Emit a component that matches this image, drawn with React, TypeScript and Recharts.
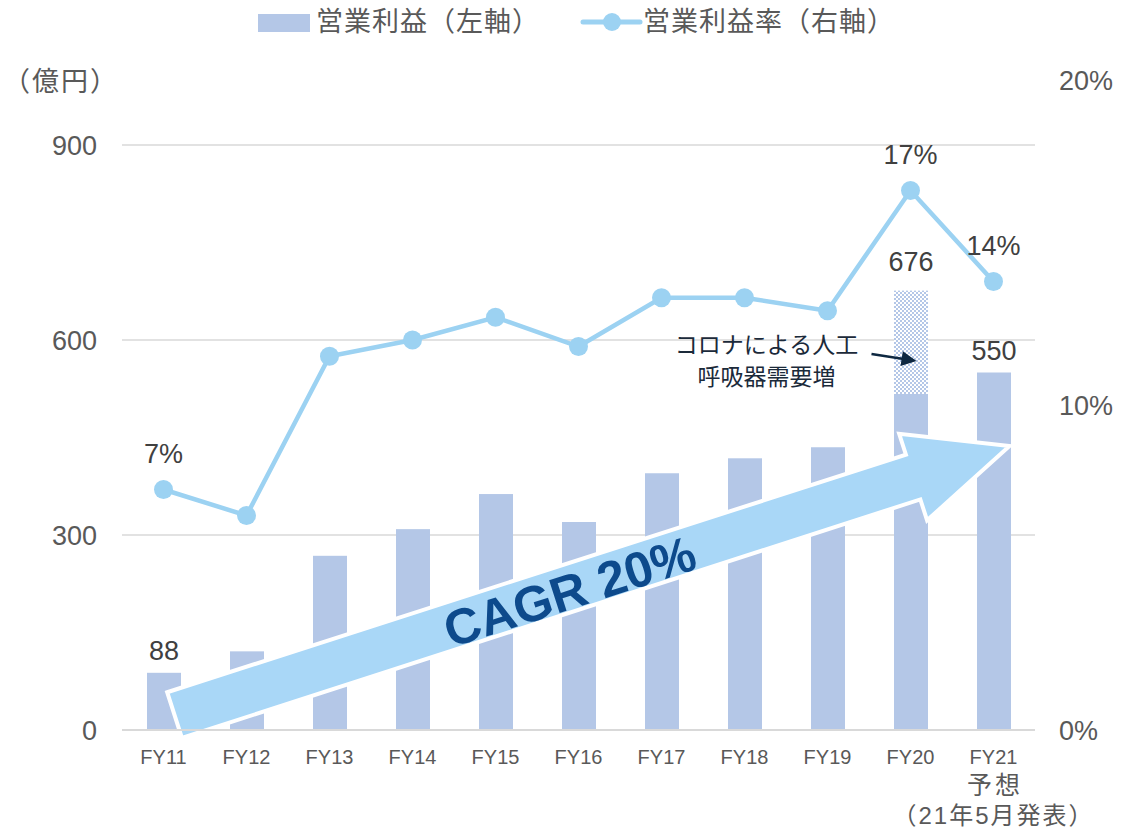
import React from 'react';
import { ComposedChart, Bar, Line, XAxis, YAxis, CartesianGrid, ReferenceLine } from 'recharts';

const categories = ['FY11', 'FY12', 'FY13', 'FY14', 'FY15', 'FY16', 'FY17', 'FY18', 'FY19', 'FY20', 'FY21'];
const operatingProfit = [88, 121, 268, 309, 363, 320, 395, 418, 435, 517, 550];
const covidUplift = [0, 0, 0, 0, 0, 0, 0, 0, 0, 159, 0];
const operatingMargin = [7.4, 6.6, 11.5, 12.0, 12.7, 11.8, 13.3, 13.3, 12.9, 16.6, 13.8];
const profitLabels = ['88', '', '', '', '', '', '', '', '', '', '550'];
const upliftLabels = ['', '', '', '', '', '', '', '', '', '676', ''];
const marginLabels = ['7%', '', '', '', '', '', '', '', '', '17%', '14%'];
const forecastNote = ['予想', '（21年5月発表）'];
const leftTicks = [0, 300, 600, 900];
const rightTicks = [0, 10, 20];
const legendItems = ['営業利益（左軸）', '営業利益率（右軸）'];
const unitLabel = '（億円）';
const cagrText = 'CAGR 20%';
const covidNote = ['コロナによる人工', '呼吸器需要増'];
const cagrSegment = [{ x: 'FY11', y: 17.5 }, { x: 'FY21', y: 429 }];
const calloutSegment = [{ x: 'FY19', y: 578.5 }, { x: 'FY20', y: 567.7 }];

const data = categories.map((name, i) => ({
  name,
  profit: operatingProfit[i],
  uplift: covidUplift[i],
  margin: operatingMargin[i],
}));

const FONT = "'Liberation Sans', Arial, 'Noto Sans CJK JP', sans-serif";
const BAR = '#B4C7E7';
const LINE = '#9CD2F2';
const ARROW = '#A9D7F7';
const AXIS_TEXT = '#595959';
const LABEL_TEXT = '#404040';

const XTick = (props: any) => {
  const { x, y, payload } = props;
  const isLast = payload.value === categories[categories.length - 1];
  return (
    <g>
      <text x={x} y={y + 19} textAnchor="middle" dominantBaseline="central" fill={AXIS_TEXT} fontSize={20} fontFamily={FONT}>
        {payload.value}
      </text>
      {isLast && (
        <>
          <text x={x + 1.5} y={y + 47} textAnchor="middle" dominantBaseline="central" fill={AXIS_TEXT} fontSize={25} letterSpacing={3} fontFamily={FONT}>
            {forecastNote[0]}
          </text>
          <text x={x} y={y + 77} textAnchor="middle" dominantBaseline="central" fill={AXIS_TEXT} fontSize={24} letterSpacing={2} fontFamily={FONT}>
            {forecastNote[1]}
          </text>
        </>
      )}
    </g>
  );
};

const ProfitBar = (p: any) => {
  const { x, y, width, height, index } = p;
  const label = profitLabels[index];
  return (
    <g>
      {height > 0 && <rect x={x} y={y} width={width} height={height} fill={BAR} />}
      {label && (
        <text x={x + width / 2} y={y - 22} textAnchor="middle" dominantBaseline="central" fill={LABEL_TEXT} fontSize={27} fontFamily={FONT}>
          {label}
        </text>
      )}
    </g>
  );
};

const UpliftBar = (p: any) => {
  const { x, y, width, height, index } = p;
  const label = upliftLabels[index];
  if (!(height > 0)) return <g />;
  return (
    <g>
      <rect x={x} y={y} width={width} height={height} fill="url(#covidHatch)" />
      {label && (
        <text x={x + width / 2} y={y - 29} textAnchor="middle" dominantBaseline="central" fill={LABEL_TEXT} fontSize={27} fontFamily={FONT}>
          {label}
        </text>
      )}
    </g>
  );
};

const MarginDot = (p: any) => {
  const { cx, cy, index } = p;
  const label = marginLabels[index];
  return (
    <g key={`dot-${index}`}>
      <circle cx={cx} cy={cy} r={9.5} fill={LINE} />
      {label && (
        <text x={cx} y={cy - 36} textAnchor="middle" dominantBaseline="central" fill={LABEL_TEXT} fontSize={27} fontFamily={FONT}>
          {label}
        </text>
      )}
    </g>
  );
};

const CagrArrow = (p: any) => {
  const { x1, y1, x2, y2 } = p;
  if ([x1, y1, x2, y2].some((v) => typeof v !== 'number' || isNaN(v))) return <g />;
  const dx = x2 - x1;
  const dy = y2 - y1;
  const len = Math.hypot(dx, dy);
  const ux = dx / len;
  const uy = dy / len;
  const nx = uy;
  const ny = -ux;
  const s0 = 11.6;
  const tip = len + 16.8;
  const hb = s0 + 776;
  const pt = (s: number, w: number) => `${x1 + ux * s + nx * w},${y1 + uy * s + ny * w}`;
  const pts = [
    pt(s0, 24),
    pt(hb, 23.5),
    pt(hb, 45.5),
    pt(tip, 0),
    pt(hb, -45.5),
    pt(hb, -23.5),
    pt(s0, -24),
  ].join(' ');
  const ts = s0 + 414;
  const tw = -4;
  const tx = x1 + ux * ts + nx * tw;
  const ty = y1 + uy * ts + ny * tw;
  const angle = (Math.atan2(uy, ux) * 180) / Math.PI;
  return (
    <g>
      <polygon points={pts} fill={ARROW} stroke="#FFFFFF" strokeWidth={4} strokeLinejoin="miter" />
      <text
        x={tx}
        y={ty}
        textAnchor="middle"
        dominantBaseline="central"
        transform={`rotate(${angle} ${tx} ${ty})`}
        fill="#0D4A8C"
        fontSize={50}
        fontWeight="bold"
        fontFamily={FONT}
      >
        {cagrText}
      </text>
    </g>
  );
};

const CovidCallout = (p: any) => {
  const { x1, y1, x2, y2 } = p;
  if ([x1, y1, x2, y2].some((v) => typeof v !== 'number' || isNaN(v))) return <g />;
  const sx = (x1 + x2) / 2 + 2.5;
  const sy = y1;
  const ex = x2 + 6;
  const ey = y2;
  const dx = ex - sx;
  const dy = ey - sy;
  const len = Math.hypot(dx, dy);
  const ux = dx / len;
  const uy = dy / len;
  const headLen = 15;
  const headHalf = 7.5;
  const bx = ex - ux * headLen;
  const by = ey - uy * headLen;
  const head = `${ex},${ey} ${bx - uy * headHalf},${by + ux * headHalf} ${bx + uy * headHalf},${by - ux * headHalf}`;
  const textX = x1 - 61;
  return (
    <g>
      <line x1={sx} y1={sy} x2={bx + ux * 2} y2={by + uy * 2} stroke="#0E2841" strokeWidth={2.5} />
      <polygon points={head} fill="#0E2841" />
      <text x={textX} y={sy - 9} textAnchor="middle" dominantBaseline="central" fill="#1B2A3A" fontSize={23} fontFamily={FONT}>
        {covidNote[0]}
      </text>
      <text x={textX} y={sy + 23} textAnchor="middle" dominantBaseline="central" fill="#1B2A3A" fontSize={23} fontFamily={FONT}>
        {covidNote[1]}
      </text>
    </g>
  );
};

export default function App() {
  return (
    <div style={{ position: 'absolute', left: 0, top: 0, width: 1128, height: 837, background: '#fff', fontFamily: FONT }}>
      <div style={{ position: 'absolute', left: 258, top: 14, width: 52, height: 18, background: BAR }} />
      <div style={{ position: 'absolute', left: 316, top: 7, fontSize: 27, letterSpacing: 1, lineHeight: '30px', color: AXIS_TEXT, whiteSpace: 'nowrap' }}>
        {legendItems[0]}
      </div>
      <svg style={{ position: 'absolute', left: 578, top: 8 }} width={66} height={28}>
        <line x1={5} y1={14} x2={62} y2={14} stroke={LINE} strokeWidth={5} strokeLinecap="round" />
        <circle cx={34} cy={14} r={9} fill={LINE} />
      </svg>
      <div style={{ position: 'absolute', left: 643, top: 7, fontSize: 27, letterSpacing: 1, lineHeight: '30px', color: AXIS_TEXT, whiteSpace: 'nowrap' }}>
        {legendItems[1]}
      </div>
      <div style={{ position: 'absolute', left: 3, top: 66, fontSize: 27, letterSpacing: 2, lineHeight: '32px', color: AXIS_TEXT, whiteSpace: 'nowrap' }}>
        {unitLabel}
      </div>
      <div style={{ position: 'absolute', left: 0, top: 0 }}>
        <ComposedChart width={1128} height={837} data={data} margin={{ top: 80, right: 0, bottom: 0, left: 0 }}>
          <defs>
            <pattern id="covidHatch" width="4" height="4" patternUnits="userSpaceOnUse">
              <rect x="0" y="0" width="4" height="4" fill="#FFFFFF" />
              <rect x="0" y="0" width="2" height="2" fill={BAR} />
              <rect x="2" y="2" width="2" height="2" fill={BAR} />
            </pattern>
          </defs>
          <CartesianGrid yAxisId="left" vertical={false} horizontalValues={leftTicks} stroke="#D9D9D9" strokeWidth={1.3} />
          <XAxis
            dataKey="name"
            height={107}
            interval={0}
            axisLine={{ stroke: '#D9D9D9', strokeWidth: 2 }}
            tickLine={false}
            tick={<XTick />}
          />
          <YAxis
            yAxisId="left"
            width={122}
            domain={[0, 1000]}
            ticks={leftTicks}
            axisLine={false}
            tickLine={false}
            tickMargin={19}
            tick={{ fill: AXIS_TEXT, fontSize: 27, fontFamily: FONT }}
          />
          <YAxis
            yAxisId="right"
            orientation="right"
            width={93}
            domain={[0, 20]}
            ticks={rightTicks}
            tickFormatter={(v: number) => `${v}%`}
            axisLine={false}
            tickLine={false}
            tickMargin={18}
            tick={{ fill: AXIS_TEXT, fontSize: 27, fontFamily: FONT }}
          />
          <Bar yAxisId="left" dataKey="profit" stackId="a" fill={BAR} barSize={34} isAnimationActive={false} shape={<ProfitBar />} />
          <Bar yAxisId="left" dataKey="uplift" stackId="a" fill={BAR} barSize={34} isAnimationActive={false} shape={<UpliftBar />} />
          <ReferenceLine yAxisId="left" segment={cagrSegment} ifOverflow="visible" shape={<CagrArrow />} />
          <ReferenceLine yAxisId="left" segment={calloutSegment} ifOverflow="visible" shape={<CovidCallout />} />
          <Line
            yAxisId="right"
            dataKey="margin"
            stroke={LINE}
            strokeWidth={4.5}
            dot={(p: any) => <MarginDot key={`d-${p.index}`} {...p} />}
            activeDot={false}
            isAnimationActive={false}
          />
        </ComposedChart>
      </div>
    </div>
  );
}
